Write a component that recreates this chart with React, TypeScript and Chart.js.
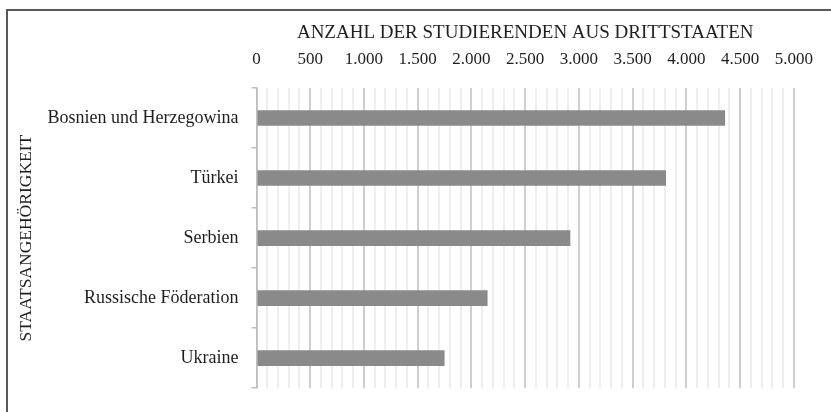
import React, { useEffect, useRef } from 'react';
import { Chart, registerables } from 'chart.js';

Chart.register(...registerables);

const categories = ['Bosnien und Herzegowina', 'Türkei', 'Serbien', 'Russische Föderation', 'Ukraine'];
const students = [4360, 3810, 2920, 2150, 1750];
const xMin = 0;
const xMax = 5000;
const minorStep = 100;
const majorStep = 500;
const xTitle = 'ANZAHL DER STUDIERENDEN AUS DRITTSTAATEN';
const yTitle = 'STAATSANGEHÖRIGKEIT';

const FONT = '"Liberation Serif", "Times New Roman", serif';
const TEXT = '#1e1e1e';

function fmt(v: number): string {
  return String(v).replace(/\B(?=(\d{3})+(?!\d))/g, '.');
}

export default function App() {
  const ref = useRef<HTMLCanvasElement | null>(null);

  useEffect(() => {
    if (!ref.current) return;
    const chart = new Chart(ref.current, {
      type: 'bar',
      data: {
        labels: categories,
        datasets: [
          {
            data: students,
            backgroundColor: '#8a8a8a',
            borderWidth: 0,
            barPercentage: 0.26,
            categoryPercentage: 1,
          },
        ],
      },
      options: {
        indexAxis: 'y',
        responsive: false,
        animation: false,
        layout: { padding: { left: 0, top: 0, right: 24, bottom: 8 } },
        plugins: { legend: { display: false }, tooltip: { enabled: false } },
        scales: {
          x: {
            position: 'top',
            min: xMin,
            max: xMax,
            afterFit: (s: any) => {
              s.height = 88;
            },
            ticks: {
              stepSize: minorStep,
              autoSkip: false,
              maxRotation: 0,
              minRotation: 0,
              padding: 18,
              color: TEXT,
              font: { family: FONT, size: 17 },
              callback: (v: any) => (Number(v) % majorStep === 0 ? fmt(Number(v)) : ''),
            },
            grid: {
              drawTicks: false,
              lineWidth: 2,
              color: (ctx: any) =>
                ctx.tick && ctx.tick.value % majorStep === 0 ? '#cfcfcf' : '#eeeeee',
            },
            border: { display: false },
            title: {
              display: true,
              text: xTitle,
              color: TEXT,
              font: { family: FONT, size: 19 },
              padding: { top: 22, bottom: 0 },
            },
          },
          y: {
            afterFit: (s: any) => {
              s.width = 256.5;
            },
            ticks: {
              color: TEXT,
              padding: 13,
              font: { family: FONT, size: 18 },
            },
            grid: {
              drawOnChartArea: false,
              tickLength: 5,
              color: '#bfbfbf',
              lineWidth: 1.5,
            },
            border: { color: '#bfbfbf', width: 1.5 },
            title: {
              display: true,
              text: yTitle,
              color: TEXT,
              font: { family: FONT, size: 17.5 },
              padding: { top: 15.5, bottom: 0 },
            },
          },
        },
      },
    });
    return () => chart.destroy();
  }, []);

  return (
    <div
      style={{
        position: 'fixed',
        left: 0,
        top: 0,
        width: 831,
        height: 412,
        overflow: 'hidden',
        background: '#fff',
      }}
    >
      <canvas ref={ref} width={831} height={412} style={{ display: 'block' }} />
      <div
        style={{
          position: 'absolute',
          left: 6,
          top: 9,
          width: 2000,
          height: 2000,
          borderTop: '2px solid #5a5a5a',
          borderLeft: '2px solid #5a5a5a',
          pointerEvents: 'none',
        }}
      />
    </div>
  );
}
